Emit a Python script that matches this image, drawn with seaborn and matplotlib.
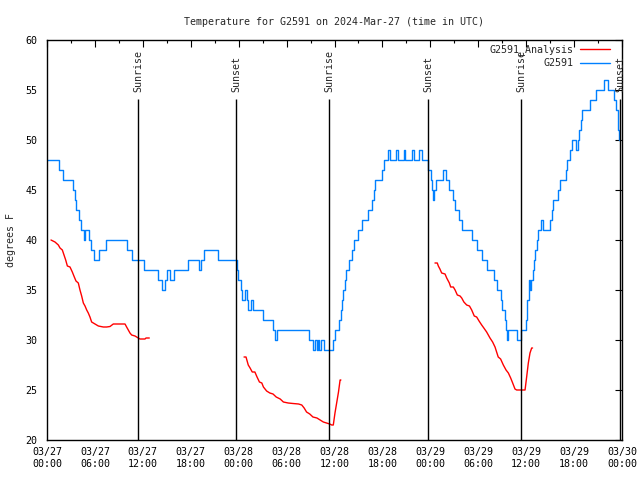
import pandas as pd
import matplotlib
matplotlib.use("Agg")
import matplotlib.pyplot as plt
import seaborn as sns

# hours since 2024-03-27 00:00 UTC, station temperature (degrees F), step changes
blue_hours = [0.0, 1.55, 2.05, 3.2, 3.45, 3.65, 4.05, 4.25, 4.6, 4.8, 5.3, 5.55, 5.9, 6.45, 7.35,
              10.05, 10.6, 12.15, 13.9, 14.4, 14.75, 15.0, 15.4, 15.9, 17.7, 19.05, 19.3, 19.7,
              21.45, 23.8, 23.95, 24.3, 24.45, 24.8, 25.0, 25.15, 25.6, 25.75, 27.05, 28.35,
              28.6, 28.8, 32.75, 33.3, 33.5, 33.8, 33.95, 34.1, 34.25, 34.7, 35.8, 36.05, 36.6,
              36.8, 36.95, 37.1, 37.3, 37.5, 37.8, 38.2, 38.45, 38.95, 39.5, 40.2, 40.65, 40.9,
              41.1, 41.9, 42.25, 42.7, 42.9, 43.7, 43.9, 44.65, 44.85, 45.7, 45.9, 46.55, 46.95,
              47.75, 48.05, 48.2, 48.35, 48.5, 48.75, 49.55, 50.0, 50.3, 50.85, 51.1, 51.55,
              51.95, 53.25, 53.8, 54.5, 55.15, 56.0, 56.35, 56.8, 57.0, 57.3, 57.45, 57.6, 57.7,
              58.8, 59.3, 59.95, 60.05, 60.15, 60.3, 60.4, 60.5, 60.65, 60.8, 60.95, 61.15,
              61.35, 61.5, 61.8, 62.05, 63.0, 63.2, 63.4, 64.0, 64.25, 64.95, 65.1, 65.5, 65.7,
              66.2, 66.45, 66.6, 66.9, 67.05, 68.0, 68.75, 69.75, 70.25, 71.0, 71.3, 71.45,
              71.55, 71.65, 71.7]
blue_temps = [48, 47, 46, 45, 44, 43, 42, 41, 40, 41, 40, 39, 38, 39, 40,
              39, 38, 37, 36, 35, 36, 37, 36, 37, 38, 37, 38, 39,
              38, 37, 36, 35, 34, 35, 34, 33, 34, 33, 32, 31,
              30, 31, 30, 29, 30, 29, 30, 29, 30, 29, 30, 31, 32,
              33, 34, 35, 36, 37, 38, 39, 40, 41, 42, 43, 44, 45,
              46, 47, 48, 49, 48, 49, 48, 49, 48, 49, 48, 49, 48,
              47, 46, 45, 44, 45, 46, 47, 46, 45, 44, 43, 42,
              41, 40, 39, 38, 37, 36, 35, 34, 33, 32, 31, 30, 31,
              30, 31, 32, 33, 34, 35, 36, 35, 36, 37, 38, 39,
              40, 41, 42, 41, 42, 43, 44, 45, 46, 47, 48, 49, 50,
              49, 50, 51, 52, 53, 54, 55, 56, 55, 54, 53, 52,
              51, 50, 50]

# analysis series, three separate pieces
red1_hours = [0.5, 1.0, 1.42, 1.63, 1.92, 2.13, 2.34, 2.55, 2.88, 3.17, 3.42, 3.63, 3.92, 4.13,
              4.34, 4.55, 4.76, 4.97, 5.17, 5.38, 5.59, 6.01, 6.43, 7.05, 7.47, 7.89, 8.3, 9.77,
              9.97, 10.18, 10.39, 10.6, 11.02, 11.43, 11.64, 12.27, 12.4, 12.81]
red1_temps = [40.0, 39.8, 39.5, 39.2, 39.0, 38.5, 38.0, 37.4, 37.3, 36.8, 36.3, 35.9, 35.7, 35.0,
              34.4, 33.7, 33.4, 33.0, 32.7, 32.3, 31.8, 31.6, 31.4, 31.3, 31.3, 31.35, 31.6, 31.6,
              31.3, 31.0, 30.7, 30.5, 30.4, 30.2, 30.1, 30.1, 30.2, 30.2]
red2_hours = [24.67, 24.92, 25.2, 25.43, 25.7, 26.03, 26.3, 26.6, 26.9, 27.1, 27.5, 27.9, 28.3,
              28.7, 29.2, 29.6, 30.2, 30.8, 31.5, 31.9, 32.2, 32.5, 32.9, 33.3, 33.8, 34.2, 34.6,
              35.0, 35.4, 35.65, 35.85, 36.06, 36.27, 36.5, 36.7, 36.8]
red2_temps = [28.3, 28.3, 27.5, 27.2, 26.8, 26.8, 26.3, 25.8, 25.7, 25.3, 24.9, 24.7, 24.6,
              24.3, 24.1, 23.8, 23.7, 23.65, 23.6, 23.5, 23.2, 22.8, 22.6, 22.3, 22.2, 22.0, 21.8,
              21.7, 21.6, 21.5, 21.5, 22.7, 23.7, 24.8, 26.0, 26.0]
red3_hours = [48.58, 48.87, 49.0, 49.2, 49.42, 49.84, 50.05, 50.38, 50.55, 50.88, 51.1, 51.38,
              51.72, 51.93, 52.2, 52.55, 52.9, 53.18, 53.5, 53.8, 54.1, 54.43, 54.7, 55.05,
              55.47, 55.8, 56.1, 56.5, 56.8, 57.14, 57.48, 57.77, 58.06, 58.31, 58.6, 58.81,
              59.86, 60.06, 60.27, 60.48, 60.69, 60.8]
red3_temps = [37.7, 37.7, 37.4, 37.1, 36.7, 36.6, 36.2, 35.7, 35.3, 35.3, 35.0, 34.5,
              34.4, 34.2, 33.8, 33.5, 33.4, 33.0, 32.4, 32.3, 31.9, 31.5, 31.2, 30.8,
              30.2, 29.8, 29.3, 28.3, 28.1, 27.5, 27.0, 26.7, 26.2, 25.7, 25.1, 25.0,
              25.0, 26.3, 27.7, 28.7, 29.2, 29.2]

sun_hours = [11.43, 23.67, 35.35, 47.75, 59.37, 71.75]
sun_names = ["Sunrise", "Sunset", "Sunrise", "Sunset", "Sunrise", "Sunset"]

tick_hours = [0, 6, 12, 18, 24, 30, 36, 42, 48, 54, 60, 66, 72]
tick_labels = ["03/27\n00:00", "03/27\n06:00", "03/27\n12:00", "03/27\n18:00",
               "03/28\n00:00", "03/28\n06:00", "03/28\n12:00", "03/28\n18:00",
               "03/29\n00:00", "03/29\n06:00", "03/29\n12:00", "03/29\n18:00",
               "03/30\n00:00"]

sns.set_style("white")
plt.rcParams['font.family'] = ['DejaVu Sans Mono']
plt.rcParams['font.size'] = 7.2

fig, ax = plt.subplots(figsize=(6.4, 4.8), dpi=100)
fig.subplots_adjust(left=47/640, right=622/640, top=1-40/480, bottom=1-440/480)

red = "#ff0000"
blue = "#0080ff"

segments = [(red1_hours, red1_temps), (red2_hours, red2_temps), (red3_hours, red3_temps)]
for h, t in segments:
    sns.lineplot(x=h, y=t, ax=ax, color=red, lw=1)

blue_df = pd.DataFrame({"hour": blue_hours, "temp": blue_temps})
sns.lineplot(data=blue_df, x="hour", y="temp", ax=ax, color=blue, lw=1,
             drawstyle="steps-post")

ax.vlines(sun_hours, 20, 54.1, color="black", lw=1)
for h, name in zip(sun_hours, sun_names):
    ax.text(h, 54.8, name, rotation=90, ha="center", va="bottom", fontsize=7.2)

ax.set_xlim(0, 72)
ax.set_ylim(20, 60)
ax.set_xticks(tick_hours)
ax.set_xticklabels(tick_labels)
ax.set_xticks(range(3, 72, 6), minor=True)
ax.set_yticks(range(20, 61, 5))
ax.tick_params(which="both", direction="in", top=True, right=True, colors="black")
ax.tick_params(which="major", length=5, width=0.8)
ax.tick_params(which="minor", length=2.5, width=0.8)
ax.tick_params(axis="x", pad=5)
ax.tick_params(axis="y", pad=7)
for sp in ax.spines.values():
    sp.set_color("black")
    sp.set_linewidth(1)

ax.set_xlabel("")
ax.set_ylabel("degrees F", labelpad=7)
ax.set_title("Temperature for G2591 on 2024-Mar-27 (time in UTC)", pad=11, fontsize=7.2)

# legend: one entry per box so the labels stay right aligned against the samples
anchor_x = (610 - 47) / 575
leg_kw = dict(loc="upper right", frameon=False, markerfirst=False, handlelength=3,
              handletextpad=0.7, borderpad=0, borderaxespad=0, fontsize=7.2)
leg1 = ax.legend([plt.Line2D([], [], color=red, lw=1)], ["G2591_Analysis"],
                 bbox_to_anchor=(anchor_x, 1 - 4/400), **leg_kw)
ax.add_artist(leg1)
ax.legend([plt.Line2D([], [], color=blue, lw=1)], ["G2591"],
          bbox_to_anchor=(anchor_x, 1 - 18/400), **leg_kw)

fig.savefig("out.png", dpi=100)
